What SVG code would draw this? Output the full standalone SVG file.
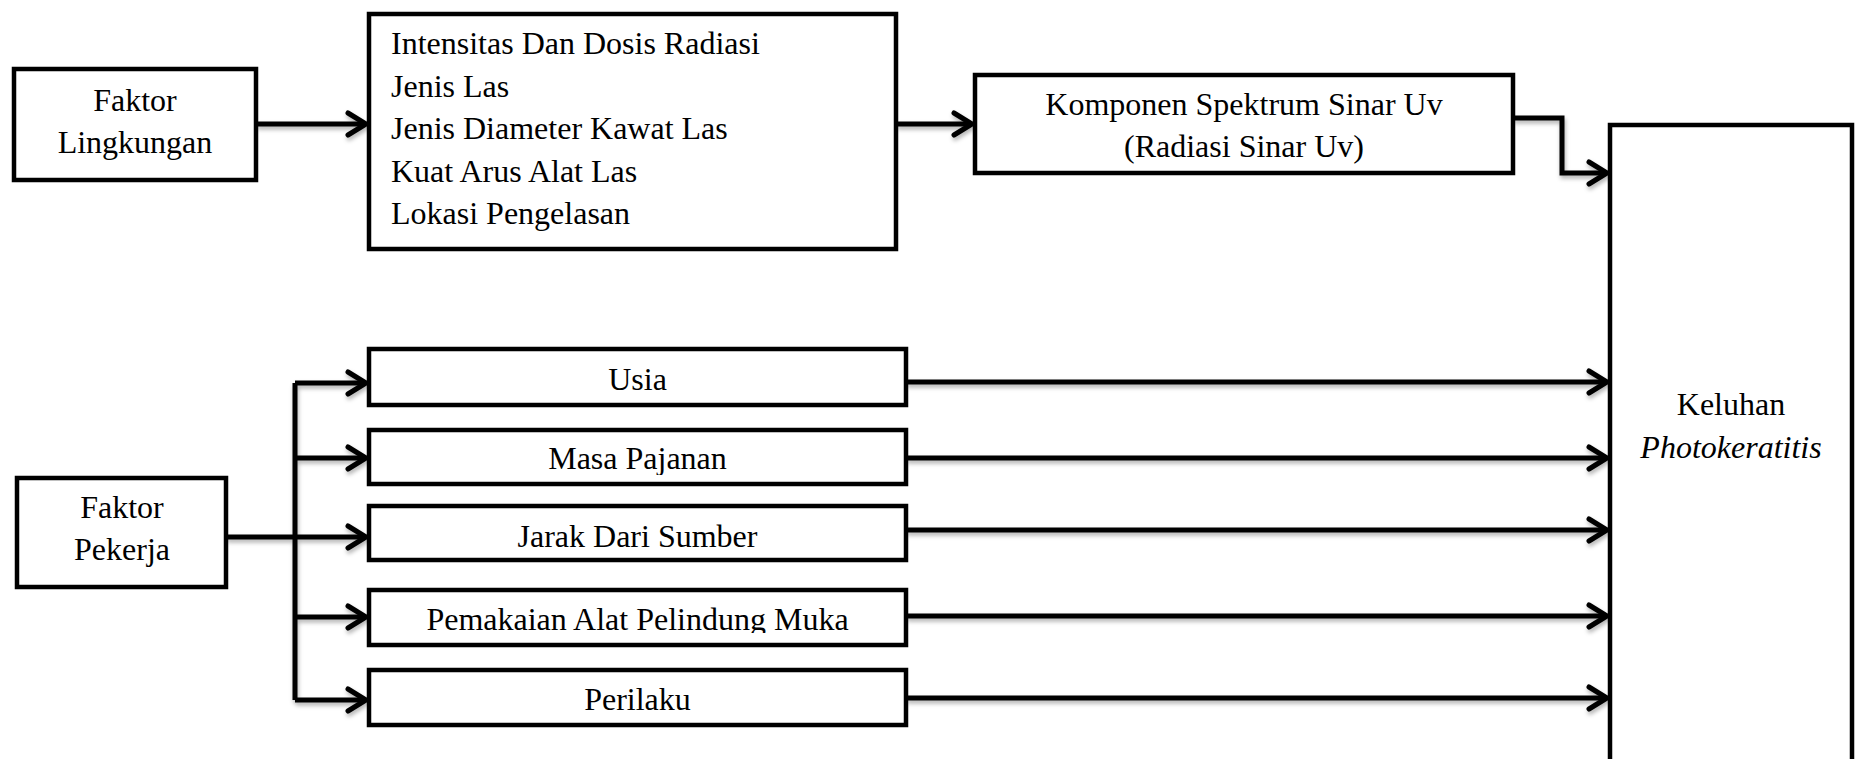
<svg xmlns="http://www.w3.org/2000/svg" width="1858" height="759" viewBox="0 0 1858 759">
<style>
.box{fill:#fff;stroke:#000;stroke-width:4.5}
.ln{fill:none;stroke:#000;stroke-width:5;stroke-linejoin:miter}
.t{font-family:"Liberation Serif","Times New Roman",serif;font-size:32px;fill:#000}
.c{text-anchor:middle}
</style>
<defs>
<marker id="arr" markerUnits="userSpaceOnUse" markerWidth="26" markerHeight="30" viewBox="0 0 26 30" refX="21" refY="15" orient="auto">
<path d="M3,4 L21,15 L3,26" fill="none" stroke="#000" stroke-width="5" stroke-linecap="round" stroke-linejoin="miter"/>
</marker>
<filter id="sh" x="-5%" y="-50%" width="110%" height="300%">
<feDropShadow dx="1" dy="3" stdDeviation="2" flood-color="#000" flood-opacity="0.3"/>
</filter>
<clipPath id="clipMasa"><rect x="372" y="432" width="531" height="43"/></clipPath>
<clipPath id="clipPem"><rect x="372" y="592" width="531" height="41"/></clipPath>
</defs>

<g id="connectors" filter="url(#sh)">
<path class="ln" d="M256,124 H366" marker-end="url(#arr)"/>
<path class="ln" d="M896,124 H972" marker-end="url(#arr)"/>
<path class="ln" d="M1513,118 H1562 V173 H1607" marker-end="url(#arr)"/>
<path class="ln" d="M295,383 V700"/>
<path class="ln" d="M226,537 H366" marker-end="url(#arr)"/>
<path class="ln" d="M295,383 H366" marker-end="url(#arr)"/>
<path class="ln" d="M295,458 H366" marker-end="url(#arr)"/>
<path class="ln" d="M295,617 H366" marker-end="url(#arr)"/>
<path class="ln" d="M295,700 H366" marker-end="url(#arr)"/>
<path class="ln" d="M906,382 H1607" marker-end="url(#arr)"/>
<path class="ln" d="M906,458 H1607" marker-end="url(#arr)"/>
<path class="ln" d="M906,530 H1607" marker-end="url(#arr)"/>
<path class="ln" d="M906,616 H1607" marker-end="url(#arr)"/>
<path class="ln" d="M906,698 H1607" marker-end="url(#arr)"/>
</g>

<g id="faktor-lingkungan">
<rect class="box" x="14" y="69" width="242" height="111"/>
<text class="t c" x="135" y="111">Faktor</text>
<text class="t c" x="135" y="153">Lingkungan</text>
</g>

<g id="variabel-lingkungan">
<rect class="box" x="369" y="14" width="527" height="235"/>
<text class="t" x="391" y="54">Intensitas Dan Dosis Radiasi</text>
<text class="t" x="391" y="96.5">Jenis Las</text>
<text class="t" x="391" y="139">Jenis Diameter Kawat Las</text>
<text class="t" x="391" y="181.5">Kuat Arus Alat Las</text>
<text class="t" x="391" y="224">Lokasi Pengelasan</text>
</g>

<g id="komponen">
<rect class="box" x="975" y="75" width="538" height="98"/>
<text class="t c" x="1244" y="115">Komponen Spektrum Sinar Uv</text>
<text class="t c" x="1244" y="157">(Radiasi Sinar Uv)</text>
</g>

<g id="keluhan">
<rect class="box" x="1610" y="125" width="242" height="700"/>
<text class="t c" x="1731" y="415">Keluhan</text>
<text class="t c" x="1731" y="458" font-style="italic">Photokeratitis</text>
</g>

<g id="faktor-pekerja">
<rect class="box" x="17" y="478" width="209" height="109"/>
<text class="t c" x="122" y="518">Faktor</text>
<text class="t c" x="122" y="560">Pekerja</text>
</g>

<g id="usia">
<rect class="box" x="369" y="349" width="537" height="56"/>
<text class="t c" x="637.5" y="390">Usia</text>
</g>

<g id="masa-pajanan">
<rect class="box" x="369" y="430" width="537" height="54"/>
<text class="t c" x="637.5" y="469" clip-path="url(#clipMasa)">Masa Pajanan</text>
</g>

<g id="jarak">
<rect class="box" x="369" y="506" width="537" height="54"/>
<text class="t c" x="637.5" y="547">Jarak Dari Sumber</text>
</g>

<g id="pemakaian">
<rect class="box" x="369" y="590" width="537" height="55"/>
<text class="t c" x="637.5" y="630" clip-path="url(#clipPem)">Pemakaian Alat Pelindung Muka</text>
</g>

<g id="perilaku">
<rect class="box" x="369" y="670" width="537" height="55"/>
<text class="t c" x="637.5" y="710">Perilaku</text>
</g>
</svg>
